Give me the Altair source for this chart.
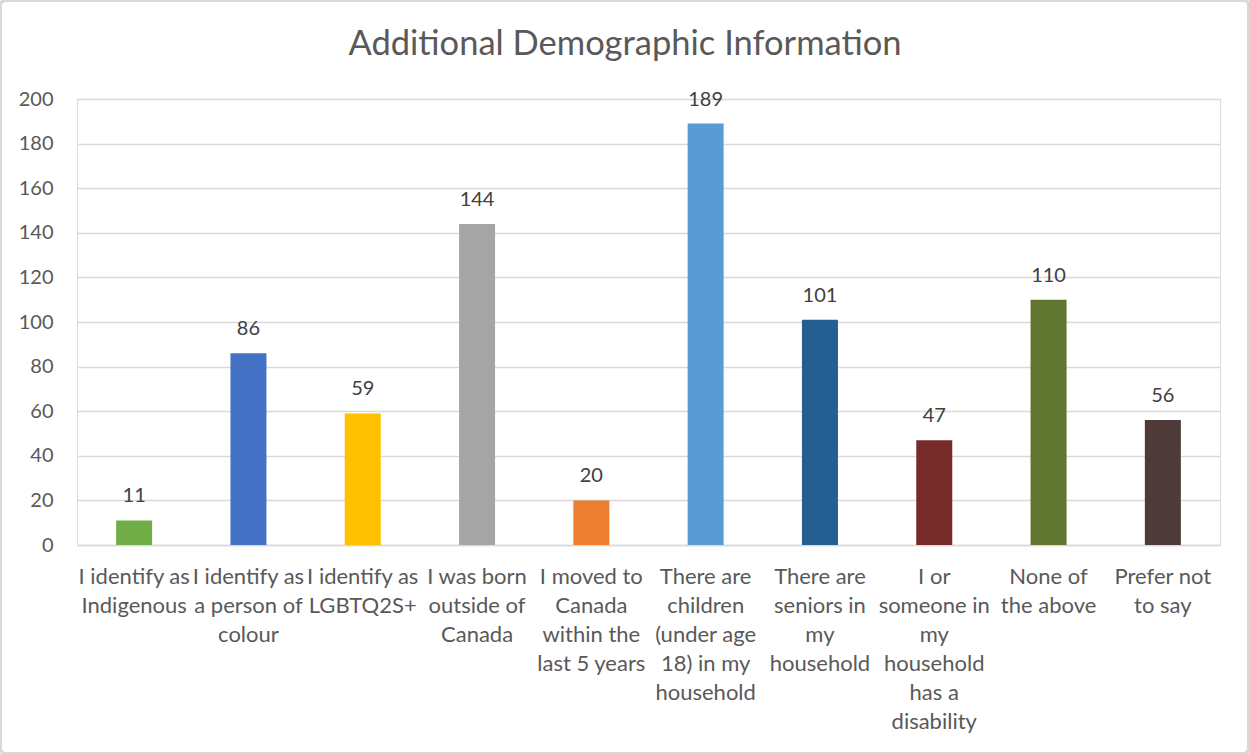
import altair as alt
import pandas as pd

# Survey responses per category
categories = [
    "I identify as Indigenous",
    "I identify as a person of colour",
    "I identify as LGBTQ2S+",
    "I was born outside of Canada",
    "I moved to Canada within the last 5 years",
    "There are children (under age 18) in my household",
    "There are seniors in my household",
    "I or someone in my household has a disability",
    "None of the above",
    "Prefer not to say",
]
label_lines = [
    ["I identify as", "Indigenous"],
    ["I identify as", "a person of", "colour"],
    ["I identify as", "LGBTQ2S+"],
    ["I was born", "outside of", "Canada"],
    ["I moved to", "Canada", "within the", "last 5 years"],
    ["There are", "children", "(under age", "18) in my", "household"],
    ["There are", "seniors in", "my", "household"],
    ["I or", "someone in", "my", "household", "has a", "disability"],
    ["None of", "the above"],
    ["Prefer not", "to say"],
]
counts = [11, 86, 59, 144, 20, 189, 101, 47, 110, 56]
colors = ["#70AD47", "#4472C4", "#FFC000", "#A5A5A5", "#ED7D31",
          "#5B9BD5", "#255E91", "#772C2A", "#5F7530", "#4E3B39"]
title_text = "Additional Demographic Information"

df = pd.DataFrame({
    "category": categories,
    "label": ["|".join(l) for l in label_lines],
    "count": counts,
    "color": colors,
})

FONT = "Lato"
TEXT = "#595959"

x_enc = alt.X(
    "label:N",
    sort=None,
    scale=alt.Scale(paddingInner=0.685, paddingOuter=0.3425),
    axis=alt.Axis(
        title=None,
        labelAngle=0,
        labelExpr="split(datum.label, '|')",
        labelFont=FONT,
        labelFontSize=22,
        labelColor=TEXT,
        labelLineHeight=29,
        labelPadding=21,
        labelLimit=200,
        labelOverlap=False,
        ticks=False,
        domainColor="#D9D9D9",
        domainWidth=1.5,
        grid=False,
    ),
)
y_enc = alt.Y(
    "count:Q",
    scale=alt.Scale(domain=[0, 200]),
    axis=alt.Axis(
        title=None,
        values=list(range(0, 201, 20)),
        labelFont=FONT,
        labelFontSize=20,
        labelColor=TEXT,
        labelPadding=24,
        ticks=False,
        domain=False,
        gridColor="#D9D9D9",
        gridWidth=1.5,
    ),
)

bars = alt.Chart(df).mark_bar().encode(
    x=x_enc,
    y=y_enc,
    color=alt.Color("color:N", scale=None),
)

labels = alt.Chart(df).mark_text(
    baseline="bottom", dy=-14, font=FONT, fontSize=20, color="#404040"
).encode(x=alt.X("label:N", sort=None), y="count:Q", text="count:Q")

# Chart heading, centred over the whole figure
heading = alt.Chart(pd.DataFrame({"t": [title_text]})).mark_text(
    font=FONT, fontSize=34.5, color=TEXT, baseline="middle", align="center"
).encode(x=alt.value(548), y=alt.value(-54), text="t:N")

# Light outer border around the figure
frame = alt.Chart(df).mark_rect(
    filled=False, stroke="#D9D9D9", strokeWidth=2, cornerRadius=3
).encode(
    x=alt.value(-76), x2=alt.value(1249 - 77 - 1),
    y=alt.value(-98), y2=alt.value(754 - 99 - 1),
)

chart = alt.layer(frame, bars, labels, heading).properties(
    width=1143,
    height=446,
    autosize=alt.AutoSizeParams(type="none"),
    padding={"left": 77, "top": 99, "right": 29, "bottom": 209},
).configure_view(stroke=None).configure(background="white")

chart.save("out.html", embed_options={"renderer": "svg", "actions": False})
